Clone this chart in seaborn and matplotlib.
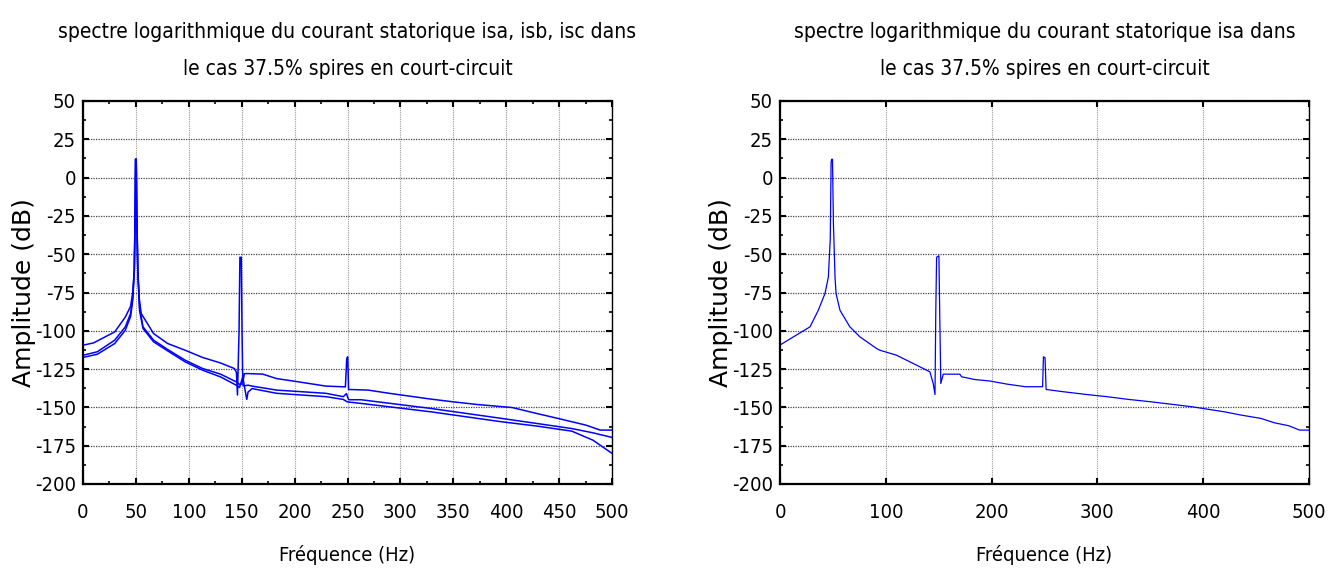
import numpy as np
import pandas as pd
import matplotlib
matplotlib.use("Agg")
import matplotlib.pyplot as plt
import seaborn as sns
from matplotlib.ticker import MultipleLocator
from matplotlib import font_manager as fm

# ---------------- data ----------------
# Left panel: isa
isa_l_f = [0, 10, 30, 40, 45, 47, 48.5, 49.3, 49.7, 50.3, 50.8, 51.8, 53, 55, 66.7, 80,
           96.6, 113, 130, 143, 145, 146, 147.5, 148.3, 149.6, 150.3, 151, 152.5, 155,
           170, 183, 199.7, 229.6, 248, 249.3, 250.2, 251, 269.5, 289.4, 329, 349,
           372.5, 405.7, 429, 449, 475.5, 488.8, 500]
isa_l_db = [-109.4, -107.9, -100.7, -91, -84, -75, -60, -20, 12, 12, -20, -60, -78, -88.7,
            -101.8, -108.3, -112.7, -117.4, -121, -124.6, -127, -141.9, -100, -52, -52,
            -100, -134, -128, -127.9, -128.3, -131.2, -132.9, -136.1, -136.6, -118, -117,
            -138.3, -138.7, -140.8, -144.6, -146.3, -148.1, -150.1, -154, -157.2, -161.6,
            -164.8, -164.8]
# Left panel: isb
isb_f = [0, 13.5, 30, 40, 45, 47, 48.5, 49.3, 49.7, 50.3, 50.8, 51.8, 53.5, 56.7, 66.7,
         80, 96.6, 113, 130, 144.8, 148, 150, 152, 156, 159.8, 183, 229.6, 246, 249, 251,
         262.8, 329, 395.8, 429, 462, 482, 500]
isb_db = [-116, -113.7, -106.1, -97.4, -88.7, -78, -60, -20, 12, 12, -20, -60, -85, -97.4,
          -106.1, -112.2, -119.2, -124.6, -128.3, -133.3, -135, -134.5, -136, -135.5,
          -136.1, -138.7, -140.8, -143, -141, -145, -145, -150.7, -157.2, -160.5, -163.8,
          -166.6, -169.6]
# Left panel: isc
isc_f = [0, 13.5, 30, 40, 45, 47, 48.5, 49.3, 49.7, 50.3, 50.8, 51.8, 53.5, 56.7, 66.7,
         80, 96.6, 113, 130, 144.8, 148, 151, 153, 154.8, 156, 159.8, 183, 229.6, 246,
         249.5, 251, 262.8, 329, 395.8, 429, 462, 482, 500]
isc_db = [-117.4, -115.3, -108.3, -99.6, -90.6, -80, -62, -25, 12, 12, -25, -62, -87,
          -98.5, -107.2, -113.1, -120.3, -125.7, -130.1, -135.5, -137, -130, -138, -144.8,
          -140, -137.7, -140.8, -143, -144.8, -146.3, -146.5, -147.4, -152.9, -159.4,
          -162.2, -165.5, -171.4, -180]

# Right panel: isa alone
isa_r_f = [0, 12.6, 28.4, 36.2, 42.5, 45.7, 47.5, 48.3, 48.8, 49.6, 50.5, 52, 53, 56.7,
           66, 75.6, 91.4, 94.5, 110, 129, 141.7, 144.8, 146.5, 147.2, 148, 150.2, 151,
           152, 154.3, 170, 171.6, 184, 198.6, 214.5, 231.8, 248.2, 249, 250.5, 251.5,
           268, 290, 309, 329.5, 350, 370.7, 389.6, 405.4, 421, 435.7, 454.6, 467, 481,
           491, 500]
isa_r_db = [-109.3, -104, -97.4, -86.6, -75.7, -65, -40, 10, 12, 12, -30, -65, -75.7,
            -86.6, -97.4, -104, -111.6, -112.7, -115.9, -122.4, -126.8, -134.4, -141.6,
            -90, -52, -51, -90, -134.4, -128.3, -128.3, -130, -131.8, -132.8, -134.8,
            -136.5, -136.5, -117, -117.5, -138.3, -139.8, -141.6, -143, -144.8, -146.3,
            -148, -149.6, -151.3, -153, -155, -157.2, -160, -162, -164.8, -164.8]

title_left = "spectre logarithmique du courant statorique isa, isb, isc dans\nle cas 37.5% spires en court-circuit"
title_right = "spectre logarithmique du courant statorique isa dans\nle cas 37.5% spires en court-circuit"
xlabel = "Fréquence (Hz)"
ylabel = "Amplitude (dB)"
yticks = [50, 25, 0, -25, -50, -75, -100, -125, -150, -175, -200]

# ---------------- styling ----------------
sns.set_style("ticks")
plt.rcParams["font.family"] = ["DejaVu Sans"]
plt.rcParams["axes.unicode_minus"] = False
for k in ["text.color", "axes.labelcolor", "xtick.color", "ytick.color"]:
    plt.rcParams[k] = "black"

narrow = fm.FontProperties(family="DejaVu Sans", stretch="condensed")

W, H = 1343, 572
fig = plt.figure(figsize=(W / 100, H / 100), dpi=100)
fig.patch.set_facecolor("white")

def px_axes(x0, x1, y0, y1):
    return fig.add_axes([x0 / W, 1 - y1 / H, (x1 - x0) / W, (y1 - y0) / H])

axL = px_axes(83, 612, 101, 484)
axR = px_axes(780, 1309, 101, 484)

blue = "#0000ff"
sns.lineplot(x=isa_l_f, y=isa_l_db, ax=axL, color=blue, lw=1.1, estimator=None, sort=False)
sns.lineplot(x=isb_f, y=isb_db, ax=axL, color=blue, lw=1.1, estimator=None, sort=False)
sns.lineplot(x=isc_f, y=isc_db, ax=axL, color=blue, lw=1.1, estimator=None, sort=False)
sns.lineplot(x=isa_r_f, y=isa_r_db, ax=axR, color=blue, lw=0.9, estimator=None, sort=False)

def style(ax, xmajor, xminor, title, ylab_x):
    ax.set_xlim(0, 500)
    ax.set_ylim(-200, 50)
    ax.xaxis.set_major_locator(MultipleLocator(xmajor))
    if xminor:
        ax.xaxis.set_minor_locator(MultipleLocator(xminor))
    ax.set_yticks(yticks)
    ax.yaxis.set_minor_locator(MultipleLocator(12.5))
    ax.tick_params(which="both", direction="in", top=True, right=True, colors="black")
    ax.tick_params(which="major", length=4, width=1.5, pad=5)
    ax.tick_params(axis="x", which="major", pad=14)
    ax.tick_params(which="minor", length=2.5, width=1.2)
    for lab in ax.get_xticklabels() + ax.get_yticklabels():
        lab.set_fontproperties(narrow)
        lab.set_fontsize(14.5)
    ax.xaxis.grid(True, which="major", color="#9a9a9a", linestyle=(0, (1, 1)), lw=0.8)
    ax.yaxis.grid(True, which="major", color="#444444", linestyle=(0, (1, 1)), lw=0.9)
    ax.set_axisbelow(True)
    for side in ["left", "bottom", "top"]:
        ax.spines[side].set_linewidth(1.6)
    ax.spines["right"].set_linewidth(1.0)
    for s in ax.spines.values():
        s.set_color("black")
    t = ax.set_title(title, linespacing=2.05, pad=19)
    t.set_fontproperties(narrow); t.set_fontsize(15)
    xl = ax.set_xlabel(xlabel, labelpad=16)
    xl.set_fontproperties(narrow); xl.set_fontsize(14.5)
    ax.set_ylabel(ylabel, fontsize=18, family="DejaVu Sans")
    ax.yaxis.set_label_coords(ylab_x, 0.5)

style(axL, 50, 25, title_left, (36 - 83) / (612 - 83))
style(axR, 100, None, title_right, (733 - 780) / (1309 - 780))

fig.savefig("out.png", dpi=100, facecolor="white")
